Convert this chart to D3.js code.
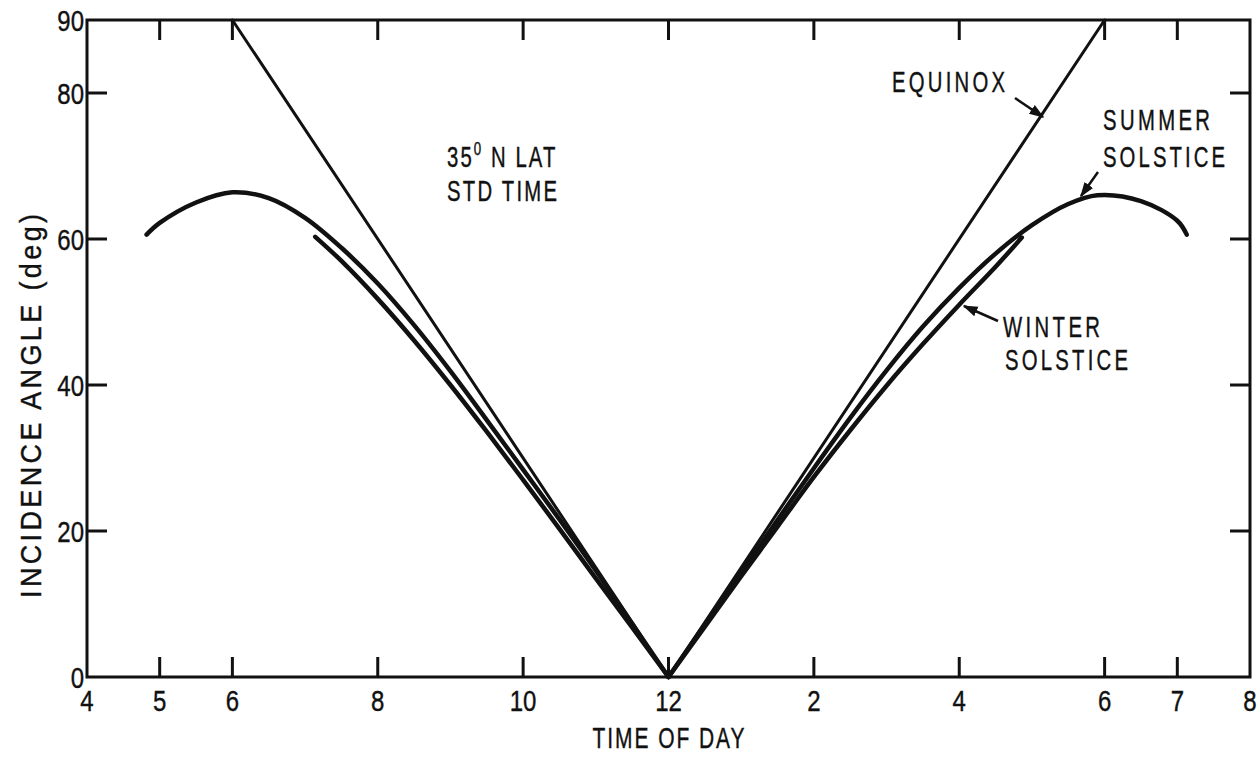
<!DOCTYPE html>
<html>
<head>
<meta charset="utf-8">
<script src="https://cdn.jsdelivr.net/npm/d3@7"></script>
<style>
  html, body { margin: 0; padding: 0; background: #fff; }
  svg text { font-family: "Liberation Sans", Arial, sans-serif; fill: #111; stroke: #111; stroke-width: 0.4; }
</style>
</head>
<body>
<script>
// Data (hour of day, incidence angle in deg)
const equinoxHours = [6, 12, 18];
const equinoxAngles = [90, 0, 90];

const summerAmHours = [4.82, 5.0, 5.5, 6.0, 6.5, 7.0, 7.5, 8.0, 8.5, 9.0, 9.5, 10.0, 10.5, 11.0, 11.5, 12.0];
const summerAmAngles = [60.6, 62.2, 65.0, 66.4, 65.6, 62.9, 58.8, 53.9, 48.2, 41.9, 35.2, 28.4, 21.6, 14.6, 7.3, 0];
const summerPmHours = [12.0, 12.5, 13.0, 13.5, 14.0, 14.5, 15.0, 15.5, 16.0, 16.5, 17.0, 17.5, 17.9, 18.5, 19.0, 19.13];
const summerPmAngles = [0, 7.2, 14.4, 21.5, 28.6, 35.5, 42.0, 48.0, 53.3, 58.0, 61.9, 64.8, 66.0, 65.2, 62.5, 60.6];

const winterAmHours = [7.14, 7.5, 8.0, 8.5, 9.0, 9.5, 10.0, 10.5, 11.0, 11.5, 12.0];
const winterAmAngles = [60.3, 57.0, 51.8, 46.1, 40.0, 33.6, 27.0, 20.3, 13.5, 6.8, 0];
const winterPmHours = [12.0, 12.5, 13.0, 13.5, 14.0, 14.5, 15.0, 15.5, 16.0, 16.5, 16.86];
const winterPmAngles = [0, 6.9, 13.8, 20.6, 27.4, 33.8, 39.9, 45.6, 51.0, 56.2, 60.2];

// Axis ticks
const xTickValues = [4, 5, 6, 8, 10, 12, 14, 16, 18, 19, 20];
const xTickLabels = ["4", "5", "6", "8", "10", "12", "2", "4", "6", "7", "8"];
const yTickValues = [0, 20, 40, 60, 80, 90];

const width = 1260;
const height = 761;
const margin = { left: 87, right: 10, top: 20, bottom: 84 };
const sx = 0.8; // horizontal squeeze to mimic the condensed lettering

const svg = d3.select("body")
    .append("svg")
    .attr("width", width)
    .attr("height", height);

const x = d3.scaleLinear().domain([4, 20]).range([margin.left, width - margin.right]);
const y = d3.scaleLinear().domain([0, 90]).range([height - margin.bottom, margin.top]);

function addLabel(g, str, px, py, opts) {
    const s = opts.sx || sx;
    const t = g.append("text")
        .attr("transform", "translate(" + px + "," + py + ")" +
            (opts.rotate ? " rotate(" + opts.rotate + ")" : "") + " scale(" + s + ",1)")
        .attr("font-size", opts.size)
        .attr("text-anchor", opts.anchor || "start")
        .text(str);
    if (opts.width) t.attr("textLength", opts.width / s).attr("lengthAdjust", "spacing");
    return t;
}

// Frame
svg.append("rect")
    .attr("x", x(4))
    .attr("y", y(90))
    .attr("width", x(20) - x(4))
    .attr("height", y(0) - y(90))
    .attr("fill", "none")
    .attr("stroke", "#111")
    .attr("stroke-width", 3);

// Inner tick marks, all four sides
const innerX = xTickValues.filter(d => d > 4 && d < 20);
const innerY = yTickValues.filter(d => d > 0 && d < 90);
const tickLen = 20;
const ticks = svg.append("g").attr("stroke", "#111").attr("stroke-width", 3);

ticks.selectAll(".tb").data(innerX).join("line")
    .attr("class", "tb")
    .attr("x1", d => x(d)).attr("x2", d => x(d))
    .attr("y1", y(0)).attr("y2", y(0) - tickLen);
ticks.selectAll(".tt").data(innerX).join("line")
    .attr("class", "tt")
    .attr("x1", d => x(d)).attr("x2", d => x(d))
    .attr("y1", y(90)).attr("y2", y(90) + tickLen);
ticks.selectAll(".tl").data(innerY).join("line")
    .attr("class", "tl")
    .attr("x1", x(4)).attr("x2", x(4) + tickLen)
    .attr("y1", d => y(d)).attr("y2", d => y(d));
ticks.selectAll(".tr").data(innerY).join("line")
    .attr("class", "tr")
    .attr("x1", x(20)).attr("x2", x(20) - tickLen)
    .attr("y1", d => y(d)).attr("y2", d => y(d));

// Tick labels
svg.append("g").selectAll("text")
    .data(xTickValues)
    .join("text")
    .attr("transform", d => "translate(" + x(d) + "," + (y(0) + 34) + ") scale(" + sx + ",1)")
    .attr("text-anchor", "middle")
    .attr("font-size", 30)
    .text((d, i) => xTickLabels[i]);

svg.append("g").selectAll("text")
    .data(yTickValues)
    .join("text")
    .attr("transform", d => "translate(" + (x(4) - 3) + "," + (y(d) + 11) + ") scale(" + sx + ",1)")
    .attr("text-anchor", "end")
    .attr("font-size", 30)
    .text(d => d);

// Axis titles
const titles = svg.append("g");
addLabel(titles, "TIME OF DAY", x(12), 748, { size: 30, sx: 0.7, anchor: "middle", width: 152 });
addLabel(titles, "INCIDENCE ANGLE (deg)", 41, 406, { size: 30, sx: 0.9, anchor: "middle", width: 384, rotate: -90 });

// Curves
const line = d3.line()
    .x(d => x(d[0]))
    .y(d => y(d[1]))
    .curve(d3.curveCatmullRom.alpha(0.5));

const zip = (xs, ys) => xs.map((h, i) => [h, ys[i]]);

const curves = svg.append("g").attr("fill", "none").attr("stroke", "#111")
    .attr("stroke-linecap", "round").attr("stroke-linejoin", "round");

curves.append("path")
    .datum(zip(equinoxHours, equinoxAngles))
    .attr("stroke-width", 3)
    .attr("d", d3.line().x(d => x(d[0])).y(d => y(d[1])));

[
    zip(summerAmHours, summerAmAngles),
    zip(summerPmHours, summerPmAngles),
    zip(winterAmHours, winterAmAngles),
    zip(winterPmHours, winterPmAngles)
].forEach(pts => {
    curves.append("path")
        .datum(pts)
        .attr("stroke-width", 4.5)
        .attr("d", line);
});

// Annotations
svg.append("defs").append("marker")
    .attr("id", "arrow")
    .attr("viewBox", "0 0 10 10")
    .attr("refX", 9).attr("refY", 5)
    .attr("markerWidth", 6).attr("markerHeight", 6)
    .attr("markerUnits", "strokeWidth")
    .attr("orient", "auto")
    .append("path")
    .attr("d", "M0,1.5 L10,5 L0,8.5 Z")
    .attr("fill", "#111");

const arrows = [
    [1015, 98, 1043, 117],
    [1098, 172, 1081, 196],
    [998, 321, 964, 306]
];
svg.append("g").selectAll("line")
    .data(arrows)
    .join("line")
    .attr("x1", d => d[0]).attr("y1", d => d[1])
    .attr("x2", d => d[2]).attr("y2", d => d[3])
    .attr("stroke", "#111")
    .attr("stroke-width", 2.5)
    .attr("marker-end", "url(#arrow)");

const notes = svg.append("g");
const noteOpts = { size: 29, sx: 0.7 };
addLabel(notes, "EQUINOX", 892, 92, Object.assign({ width: 113 }, noteOpts));
addLabel(notes, "SUMMER", 1103, 130, Object.assign({ width: 107 }, noteOpts));
addLabel(notes, "SOLSTICE", 1103, 167, Object.assign({ width: 122 }, noteOpts));
addLabel(notes, "WINTER", 1003, 337, Object.assign({ width: 97 }, noteOpts));
addLabel(notes, "SOLSTICE", 1005, 370, Object.assign({ width: 123 }, noteOpts));
addLabel(notes, "STD TIME", 447, 201, Object.assign({ width: 110 }, noteOpts));

const lat = notes.append("text")
    .attr("transform", "translate(447,167) scale(0.7,1)")
    .attr("font-size", 29)
    .attr("letter-spacing", 3);
lat.append("tspan").text("35");
lat.append("tspan").attr("dy", -12).attr("font-size", 19).text("0");
lat.append("tspan").attr("dy", 12).text(" N LAT");
</script>
</body>
</html>
